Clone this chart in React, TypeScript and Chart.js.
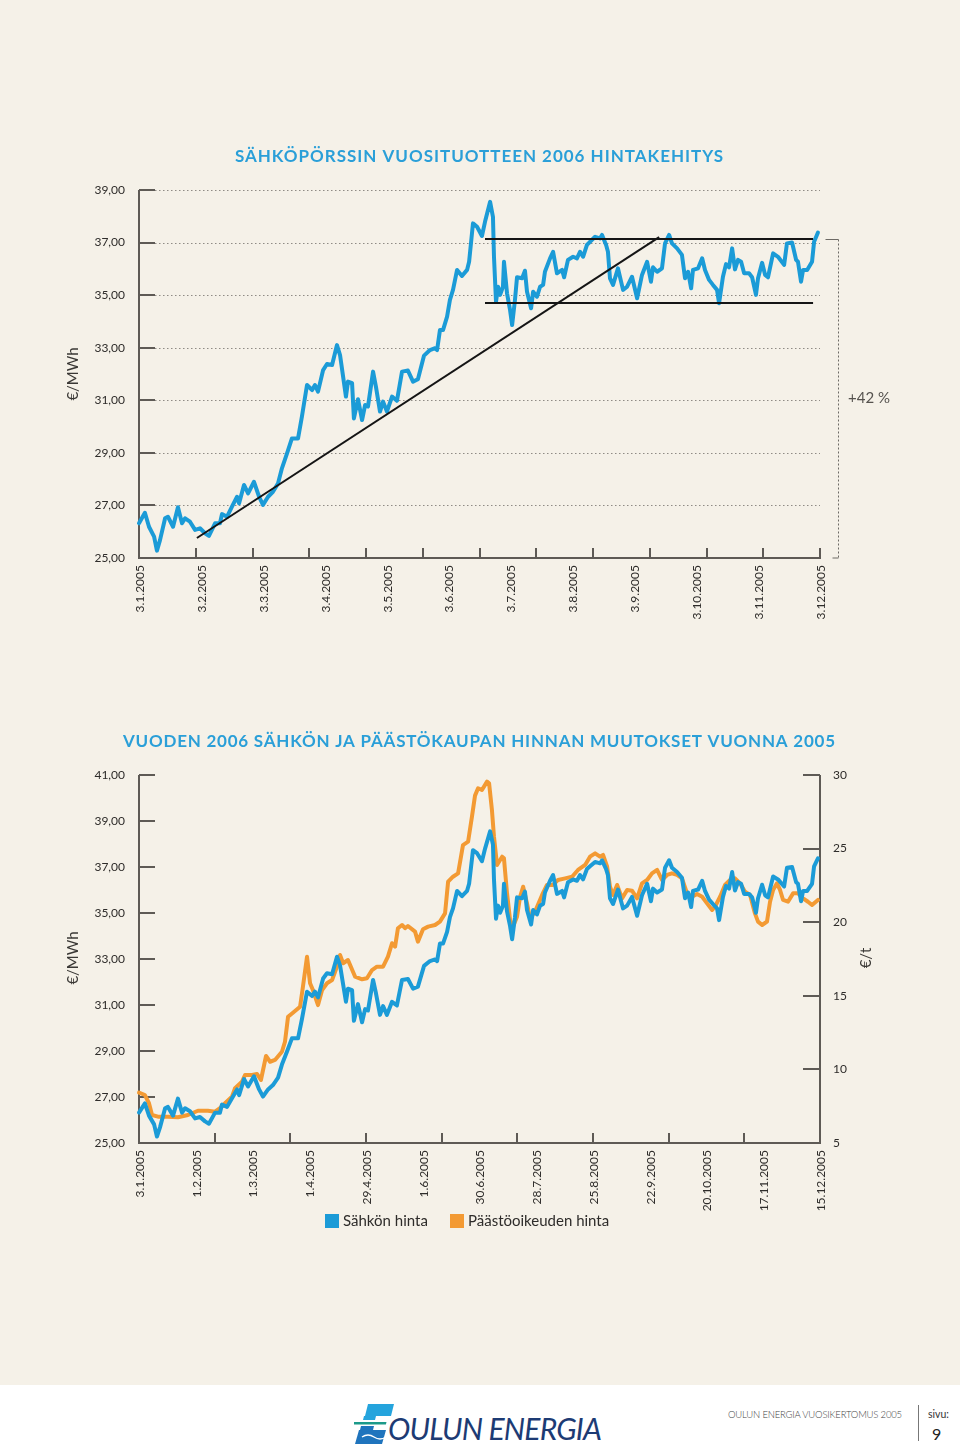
import React, { useEffect, useRef } from "react";
import { Chart, registerables } from "chart.js";

Chart.register(...registerables);

// ---------- DATA ----------
// Electricity (year-2006 forward) price, €/MWh — [days since 3.1.2005, price]
const elecSeries: [number, number][] = [
  [0, 26.32], [2.9, 26.72], [4.9, 26.19], [7.4, 25.81], [8.8, 25.28], [10.3, 25.68], [12.8, 26.51], [14.2, 26.57],
  [16.7, 26.19], [19.1, 26.93], [21.1, 26.32], [22.6, 26.51], [25.0, 26.38], [27.5, 26.07], [29.9, 26.13], [32.4, 25.94],
  [34.3, 25.84], [37.3, 26.32], [39.7, 26.32], [40.7, 26.67], [43.2, 26.57], [45.6, 26.95], [48.1, 27.33], [49.1, 27.08],
  [51.5, 27.78], [53.5, 27.46], [56.4, 27.9], [58.9, 27.33], [60.8, 27.02], [63.3, 27.33], [65.7, 27.52], [68.2, 27.84],
  [70.1, 28.41], [72.6, 28.98], [75.0, 29.55], [78.0, 29.55], [79.9, 30.38], [82.4, 31.58], [84.9, 31.39], [86.3, 31.58],
  [87.8, 31.33], [90.3, 32.15], [92.2, 32.38], [94.7, 32.34], [97.1, 33.1], [98.6, 32.72], [101.5, 31.14], [102.5, 31.71],
  [104.5, 31.65], [105.4, 30.31], [107.4, 31.04], [109.4, 30.25], [110.9, 30.82], [112.3, 30.76], [114.8, 32.09], [116.2, 31.52],
  [118.2, 30.57], [119.7, 30.95], [121.6, 30.57], [124.1, 31.14], [126.5, 30.98], [129.0, 32.09], [131.9, 32.13], [134.4, 31.71],
  [136.8, 31.8], [139.8, 32.7], [142.7, 32.91], [145.2, 32.98], [146.2, 32.91], [147.6, 33.67], [149.1, 33.67], [151.1, 34.18],
  [152.5, 34.82], [154.0, 35.2], [156.0, 35.96], [158.4, 35.73], [160.9, 35.96], [161.9, 36.27], [163.8, 37.73], [165.8, 37.6],
  [168.2, 37.25], [169.7, 37.79], [172.2, 38.55], [173.6, 37.98], [174.1, 36.46], [175.1, 34.75], [176.1, 35.32], [177.1, 35.01],
  [178.5, 35.32], [179.0, 36.27], [180.5, 35.07], [182.0, 34.43], [183.0, 33.86], [184.4, 34.82], [185.4, 35.68], [187.9, 35.64],
  [189.3, 35.93], [190.3, 35.13], [192.3, 34.5], [193.3, 35.13], [195.2, 34.94], [196.7, 35.32], [198.2, 35.39], [199.1, 35.89],
  [201.6, 36.4], [203.1, 36.65], [205.0, 35.83], [207.5, 35.96], [208.5, 35.68], [210.4, 36.34], [212.9, 36.46], [214.8, 36.4],
  [216.3, 36.65], [217.8, 36.46], [219.7, 36.91], [221.2, 37.03], [223.7, 37.22], [226.1, 37.16], [227.1, 37.29], [229.1, 36.91],
  [230.0, 36.65], [231.0, 35.64], [232.5, 35.39], [234.9, 36.02], [237.4, 35.2], [239.4, 35.32], [241.8, 35.7], [244.3, 34.88],
  [246.7, 35.77], [249.2, 36.27], [251.1, 35.51], [252.1, 36.06], [254.1, 35.89], [256.5, 36.02], [258.0, 36.97], [260.0, 37.29],
  [261.4, 36.97], [263.9, 36.78], [266.3, 36.53], [267.8, 35.64], [269.3, 35.89], [270.8, 35.26], [271.7, 35.96], [274.2, 36.02],
  [276.2, 36.4], [277.6, 35.96], [279.6, 35.58], [281.5, 35.39], [283.5, 35.2], [284.5, 34.69], [286.4, 35.7], [287.9, 36.18],
  [289.4, 36.06], [290.9, 36.78], [292.3, 35.98], [293.8, 36.34], [295.3, 36.27], [296.8, 35.83], [299.2, 35.83], [300.7, 35.68],
  [302.6, 35.01], [303.6, 35.64], [305.6, 36.23], [307.1, 35.77], [308.5, 35.68], [311.0, 36.59], [313.4, 36.46], [316.4, 36.15],
  [317.8, 36.97], [320.3, 37.0], [322.3, 36.34], [323.2, 36.27], [324.7, 35.51], [325.7, 35.96], [327.7, 35.96], [330.1, 36.27],
  [331.1, 37.03], [333.0, 37.38],
];

// Emission allowance price, €/t — [days since 3.1.2005, price]
const allowanceSeries: [number, number][] = [
  [0, 8.42], [2.9, 8.26], [4.9, 7.7], [6.4, 6.9], [9.3, 6.79], [14.2, 6.79], [19.1, 6.75], [24.0, 6.9],
  [28.9, 7.19], [33.8, 7.19], [37.3, 7.13], [39.7, 7.36], [42.2, 7.7], [45.6, 8.15], [47.1, 8.72], [50.5, 9.16],
  [52.0, 9.62], [55.4, 9.62], [57.9, 9.69], [59.8, 9.28], [62.3, 10.91], [64.3, 10.52], [66.7, 10.64], [70.1, 11.2],
  [71.6, 11.88], [73.1, 13.58], [75.5, 13.85], [79.0, 14.26], [80.4, 15.62], [82.4, 17.66], [83.9, 15.85], [85.3, 15.39],
  [87.8, 14.37], [89.8, 15.39], [92.2, 15.85], [94.7, 16.07], [97.1, 16.98], [98.6, 17.77], [100.1, 17.21], [102.5, 17.43],
  [106.0, 16.3], [109.4, 16.12], [111.8, 16.19], [114.3, 16.75], [116.7, 16.98], [119.7, 16.98], [122.1, 17.66], [124.1, 18.57],
  [125.6, 18.34], [127.0, 19.59], [129.0, 19.81], [130.5, 19.59], [131.9, 19.74], [135.4, 19.36], [136.8, 18.68], [139.3, 19.52],
  [141.8, 19.7], [145.2, 19.81], [147.6, 20.04], [150.1, 20.6], [151.6, 22.75], [154.0, 23.09], [156.5, 23.32], [158.9, 25.24],
  [161.4, 25.47], [163.3, 27.17], [164.8, 28.6], [166.3, 29.1], [168.2, 28.98], [170.7, 29.55], [171.7, 29.44], [173.1, 27.62],
  [174.1, 25.81], [175.6, 23.89], [178.1, 24.45], [179.0, 24.34], [180.5, 21.96], [182.0, 20.15], [183.4, 19.7], [185.4, 20.37],
  [186.9, 21.73], [188.4, 22.41], [190.3, 21.28], [191.8, 20.26], [194.2, 20.71], [197.7, 21.85], [200.1, 22.53], [203.1, 22.53],
  [205.5, 22.87], [209.0, 22.98], [212.4, 23.09], [215.3, 23.55], [218.8, 23.89], [221.2, 24.45], [223.7, 24.68], [226.1, 24.45],
  [227.6, 24.57], [229.6, 23.77], [231.0, 22.41], [232.5, 21.85], [234.5, 22.53], [236.9, 21.62], [239.4, 22.19], [241.8, 22.14],
  [244.3, 21.62], [246.7, 22.64], [249.2, 22.87], [251.6, 23.32], [254.1, 23.55], [256.5, 22.87], [259.0, 23.21], [261.4, 23.32],
  [263.9, 23.21], [266.3, 22.98], [268.8, 21.96], [271.2, 21.73], [273.7, 21.92], [276.2, 21.73], [278.6, 21.28], [281.1, 20.83],
  [282.5, 21.05], [285.0, 21.73], [287.4, 22.53], [289.9, 22.87], [292.3, 22.98], [294.8, 22.64], [297.2, 22.07], [299.7, 21.85],
  [302.1, 20.6], [303.6, 20.04], [305.6, 19.81], [308.0, 20.04], [309.5, 21.39], [311.0, 22.19], [312.9, 22.64], [314.4, 22.19],
  [315.9, 21.51], [318.3, 21.39], [320.8, 21.96], [323.2, 21.96], [325.7, 21.62], [328.1, 21.39], [330.1, 21.17], [333.0, 21.51],
];

// Annotation lines in the top chart: trend and price channel
const trendLine: [number, number][] = [[28.4, 25.76], [255.1, 37.21]];
const channelTop: [number, number][] = [[169.7, 37.14], [330.6, 37.14]];
const channelBottom: [number, number][] = [[169.7, 34.7], [330.6, 34.7]];
const changeText = "+42 %";

const axisDays = 334;
const topDateLabels = ["3.1.2005", "3.2.2005", "3.3.2005", "3.4.2005", "3.5.2005", "3.6.2005", "3.7.2005", "3.8.2005", "3.9.2005", "3.10.2005", "3.11.2005", "3.12.2005"];
const bottomDateLabels = ["3.1.2005", "1.2.2005", "1.3.2005", "1.4.2005", "29.4.2005", "1.6.2005", "30.6.2005", "28.7.2005", "25.8.2005", "22.9.2005", "20.10.2005", "17.11.2005", "15.12.2005"];
const topYTicks = [25, 27, 29, 31, 33, 35, 37, 39];
const bottomLeftTicks = [25, 27, 29, 31, 33, 35, 37, 39, 41];
const bottomRightTicks = [5, 10, 15, 20, 25, 30];
const topTickCount = 12; // intervals of tick marks on top x-axis
const bottomTickCount = 9; // intervals of tick marks on bottom x-axis

const topTitle = "SÄHKÖPÖRSSIN VUOSITUOTTEEN 2006 HINTAKEHITYS";
const bottomTitle = "VUODEN 2006 SÄHKÖN JA PÄÄSTÖKAUPAN HINNAN MUUTOKSET VUONNA 2005";
const legendLabels = ["Sähkön hinta", "Päästöoikeuden hinta"];

// ---------- STYLE ----------
const BLUE = "#1b9bd7";
const ORANGE = "#f39a33";
const TITLE_BLUE = "#2a9fd8";
const AXIS = "#5e5a55";
const TEXT = "#2e2c2a";
const FONT = "Lato, 'Open Sans', sans-serif";
const BG = "#f5f1e8";

const toXY = (s: [number, number][]) => s.map(([x, y]) => ({ x, y }));
const fmt = (v: number) => v.toFixed(2).replace(".", ",");

function line(ctx: CanvasRenderingContext2D, x1: number, y1: number, x2: number, y2: number) {
  ctx.beginPath();
  ctx.moveTo(x1, y1);
  ctx.lineTo(x2, y2);
  ctx.stroke();
}

function rotText(ctx: CanvasRenderingContext2D, text: string, x: number, y: number, align: CanvasTextAlign) {
  ctx.save();
  ctx.translate(x, y);
  ctx.rotate(-Math.PI / 2);
  ctx.textAlign = align;
  ctx.textBaseline = "middle";
  ctx.fillText(text, 0, 0);
  ctx.restore();
}

// draw a centred title stretched to the reference width via letter spacing
function title(ctx: CanvasRenderingContext2D, text: string, cx: number, cy: number, targetWidth: number) {
  ctx.save();
  ctx.font = `bold 17px ${FONT}`;
  ctx.fillStyle = TITLE_BLUE;
  ctx.textAlign = "left";
  ctx.textBaseline = "middle";
  const w = ctx.measureText(text).width;
  const extra = (targetWidth - w) / Math.max(1, text.length - 1);
  (ctx as any).letterSpacing = `${extra.toFixed(2)}px`;
  const w2 = ctx.measureText(text).width;
  ctx.fillText(text, cx - (w2 - extra) / 2, cy);
  ctx.restore();
}

const topDecor = {
  id: "topDecor",
  beforeDatasetsDraw(chart: any) {
    const { ctx, chartArea: a, scales } = chart;
    const x = scales.x, y = scales.y;
    ctx.save();
    ctx.strokeStyle = "#8f8b85";
    ctx.lineWidth = 1;
    ctx.setLineDash([1.5, 2.5]);
    topYTicks.forEach((v) => {
      if (v === topYTicks[0]) return;
      const py = Math.round(y.getPixelForValue(v)) + 0.5;
      line(ctx, a.left + 16, py, a.right, py);
    });
    ctx.setLineDash([]);
    ctx.strokeStyle = AXIS;
    ctx.lineWidth = 2;
    topYTicks.forEach((v) => {
      const py = Math.round(y.getPixelForValue(v));
      line(ctx, a.left, py, a.left + 16, py);
    });
    line(ctx, a.left, a.top, a.left, a.bottom + 1);
    line(ctx, a.left, a.bottom, a.right + 1, a.bottom);
    for (let i = 0; i <= topTickCount; i++) {
      const px = Math.round(x.getPixelForValue((axisDays * i) / topTickCount));
      line(ctx, px, a.bottom, px, a.bottom - 10);
    }
    ctx.restore();
  },
  afterDraw(chart: any) {
    const { ctx, chartArea: a, scales } = chart;
    const x = scales.x, y = scales.y;
    ctx.save();
    ctx.fillStyle = TEXT;
    ctx.font = `12px ${FONT}`;
    ctx.textAlign = "right";
    ctx.textBaseline = "middle";
    topYTicks.forEach((v) => ctx.fillText(fmt(v), a.left - 14, y.getPixelForValue(v)));
    topDateLabels.forEach((lab, i) => {
      const px = x.getPixelForValue((axisDays * i) / (topDateLabels.length - 1));
      rotText(ctx, lab, px + 1, a.bottom + 7, "right");
    });
    ctx.font = `15px ${FONT}`;
    ctx.fillStyle = "#3a3835";
    rotText(ctx, "€/MWh", 73, (a.top + a.bottom) / 2, "center");
    title(ctx, topTitle, 479, a.top - 33, 488);
    // bracket + change text
    const bx = a.right + 18.5;
    const yTop = Math.round(y.getPixelForValue(channelTop[0][1])) + 0.5;
    ctx.strokeStyle = "#6d6a65";
    ctx.lineWidth = 1;
    ctx.setLineDash([2, 2]);
    line(ctx, bx, yTop, bx, a.bottom);
    ctx.setLineDash([]);
    line(ctx, bx - 13, yTop, bx, yTop);
    line(ctx, bx - 6, a.bottom, bx, a.bottom);
    ctx.font = `15px ${FONT}`;
    ctx.fillStyle = "#55524e";
    ctx.textAlign = "left";
    ctx.fillText(changeText, a.right + 28, y.getPixelForValue(31.1));
    ctx.restore();
  },
};

const bottomDecor = {
  id: "bottomDecor",
  beforeDatasetsDraw(chart: any) {
    const { ctx, chartArea: a, scales } = chart;
    const x = scales.x, y = scales.y, y1 = scales.y1;
    ctx.save();
    ctx.strokeStyle = AXIS;
    ctx.lineWidth = 2;
    line(ctx, a.left, a.top, a.left, a.bottom + 1);
    line(ctx, a.right, a.top, a.right, a.bottom + 1);
    line(ctx, a.left, a.bottom, a.right + 1, a.bottom);
    bottomLeftTicks.forEach((v) => {
      const py = Math.round(y.getPixelForValue(v));
      line(ctx, a.left, py, a.left + 16, py);
    });
    bottomRightTicks.forEach((v) => {
      const py = Math.round(y1.getPixelForValue(v));
      line(ctx, a.right - 17, py, a.right, py);
    });
    for (let i = 0; i <= bottomTickCount; i++) {
      const px = Math.round(x.getPixelForValue((axisDays * i) / bottomTickCount));
      line(ctx, px, a.bottom, px, a.bottom - 10);
    }
    ctx.restore();
  },
  afterDraw(chart: any) {
    const { ctx, chartArea: a, scales } = chart;
    const x = scales.x, y = scales.y, y1 = scales.y1;
    ctx.save();
    ctx.fillStyle = TEXT;
    ctx.font = `12px ${FONT}`;
    ctx.textBaseline = "middle";
    ctx.textAlign = "right";
    bottomLeftTicks.forEach((v) => ctx.fillText(fmt(v), a.left - 14, y.getPixelForValue(v)));
    ctx.textAlign = "left";
    bottomRightTicks.forEach((v) => ctx.fillText(String(v), a.right + 13, y1.getPixelForValue(v)));
    bottomDateLabels.forEach((lab, i) => {
      const px = x.getPixelForValue((axisDays * i) / (bottomDateLabels.length - 1));
      rotText(ctx, lab, px + 1, a.bottom + 7, "right");
    });
    ctx.font = `15px ${FONT}`;
    ctx.fillStyle = "#3a3835";
    rotText(ctx, "€/MWh", 73, (a.top + a.bottom) / 2 - 1, "center");
    rotText(ctx, "€/t", a.right + 46, (a.top + a.bottom) / 2 - 1, "center");
    title(ctx, bottomTitle, 479, a.top - 33, 712);
    // legend
    const ly = a.bottom + 78;
    ctx.font = `15px ${FONT}`;
    ctx.fillStyle = BLUE;
    ctx.fillRect(325, ly - 7, 14, 14);
    ctx.fillStyle = ORANGE;
    ctx.fillRect(450, ly - 7, 14, 14);
    ctx.fillStyle = TEXT;
    ctx.textAlign = "left";
    ctx.textBaseline = "middle";
    ctx.fillText(legendLabels[0], 343, ly);
    ctx.fillText(legendLabels[1], 468, ly);
    ctx.restore();
  },
};

export default function App() {
  const topRef = useRef<HTMLCanvasElement>(null);
  const botRef = useRef<HTMLCanvasElement>(null);

  useEffect(() => {
    const lineDs = (data: any, color: string, width: number, extra: any = {}) => ({
      data,
      borderColor: color,
      backgroundColor: color,
      borderWidth: width,
      pointRadius: 0,
      tension: 0,
      borderJoinStyle: "round",
      borderCapStyle: "round",
      clip: false,
      fill: false,
      ...extra,
    });

    const top = new Chart(topRef.current!, {
      type: "line",
      data: {
        datasets: [
          lineDs(toXY(trendLine), "#151515", 2, { order: 0, borderCapStyle: "butt" }),
          lineDs(toXY(channelTop), "#151515", 2, { order: 0, borderCapStyle: "butt" }),
          lineDs(toXY(channelBottom), "#151515", 2, { order: 0, borderCapStyle: "butt" }),
          lineDs(toXY(elecSeries), BLUE, 4, { order: 1 }),
        ],
      },
      options: {
        animation: false,
        responsive: false,
        maintainAspectRatio: false,
        events: [],
        layout: { padding: { left: 139, top: 190, right: 140, bottom: 142 } },
        scales: {
          x: { type: "linear", display: false, min: 0, max: axisDays },
          y: { type: "linear", display: false, min: 25, max: 39 },
        },
        plugins: { legend: { display: false }, tooltip: { enabled: false } },
      } as any,
      plugins: [topDecor],
    });

    const bottom = new Chart(botRef.current!, {
      type: "line",
      data: {
        datasets: [
          lineDs(toXY(elecSeries), BLUE, 4, { yAxisID: "y", label: legendLabels[0] }),
          lineDs(toXY(allowanceSeries), ORANGE, 4, { yAxisID: "y1", label: legendLabels[1] }),
        ],
      },
      options: {
        animation: false,
        responsive: false,
        maintainAspectRatio: false,
        events: [],
        layout: { padding: { left: 139, top: 75, right: 140, bottom: 117 } },
        scales: {
          x: { type: "linear", display: false, min: 0, max: axisDays },
          y: { type: "linear", display: false, min: 25, max: 41, position: "left" },
          y1: { type: "linear", display: false, min: 5, max: 30, position: "right" },
        },
        plugins: { legend: { display: false }, tooltip: { enabled: false } },
      } as any,
      plugins: [bottomDecor],
    });

    return () => {
      top.destroy();
      bottom.destroy();
    };
  }, []);

  return (
    <div style={{ position: "absolute", left: 0, top: 0, width: 960, height: 1444, background: "#ffffff", overflow: "hidden", fontFamily: FONT }}>
      <div style={{ position: "absolute", left: 0, top: 0, width: 960, height: 1385, background: BG }} />
      <canvas ref={topRef} width={960} height={700} style={{ position: "absolute", left: 0, top: 0, width: 960, height: 700 }} />
      <canvas ref={botRef} width={960} height={560} style={{ position: "absolute", left: 0, top: 700, width: 960, height: 560 }} />
      {/* footer */}
      <svg width={42} height={40} viewBox="0 0 42 40" style={{ position: "absolute", left: 354, top: 1404 }}>
        <polygon points="14,0 40,0 37,12 11,12" fill="#25a4dd" />
        <polygon points="10,12 22,12 21,16 9,16" fill="#25a4dd" />
        <rect x="3" y="18" width="34" height="2.5" fill="#1c9a8a" transform="skewX(-14)" />
        <polygon points="7,22 20,22 19,26 6,26" fill="#1f74bd" />
        <polygon points="5,26 32,26 28,40 1,40" fill="#1f74bd" />
        <path d="M8,33 Q14,29 20,33 T32,33" stroke="#ffffff" strokeWidth="1.5" fill="none" />
      </svg>
      <div style={{ position: "absolute", left: 388, top: 1411, fontSize: 30, lineHeight: "34px", fontStyle: "italic", color: "#1d3b74", letterSpacing: -0.8, whiteSpace: "nowrap" }}>
        OULUN ENERGIA
      </div>
      <div style={{ position: "absolute", left: 728, top: 1408, fontSize: 9.5, lineHeight: "13px", color: "#444", whiteSpace: "nowrap", fontWeight: 300, letterSpacing: -0.2 }}>
        OULUN ENERGIA VUOSIKERTOMUS 2005
      </div>
      <div style={{ position: "absolute", left: 918, top: 1405, width: 1, height: 36, background: "#777" }} />
      <div style={{ position: "absolute", left: 928, top: 1407, fontSize: 10.5, lineHeight: "14px", color: "#333" }}>sivu:</div>
      <div style={{ position: "absolute", left: 932, top: 1424, fontSize: 16, lineHeight: "20px", color: "#222" }}>9</div>
    </div>
  );
}
